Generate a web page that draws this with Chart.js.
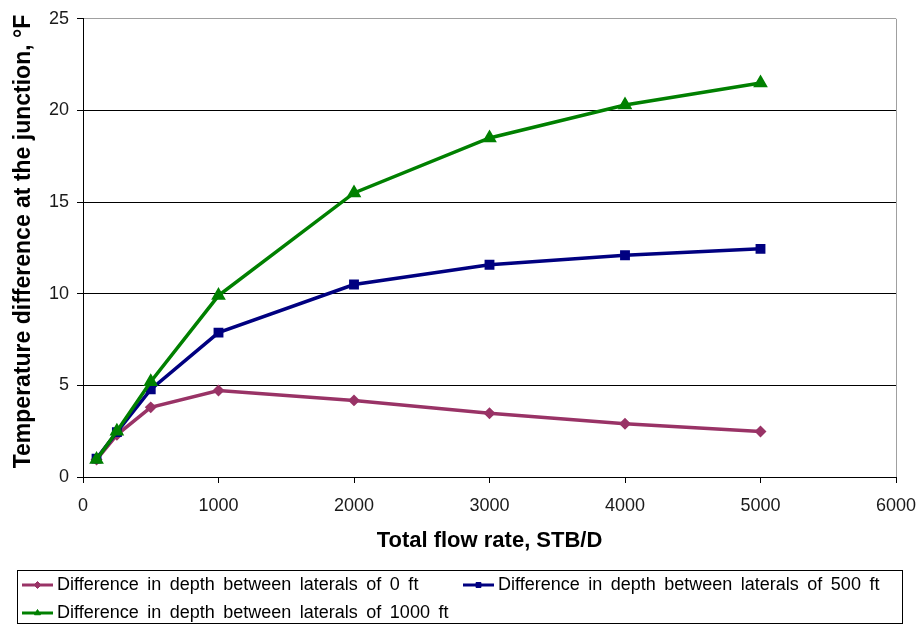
<!DOCTYPE html>
<html>
<head>
<meta charset="utf-8">
<script src="https://cdn.jsdelivr.net/npm/chart.js@4/dist/chart.umd.min.js"></script>
<style>
  html, body { margin: 0; padding: 0; background: #fff; }
  canvas { display: block; }
</style>
</head>
<body>
<canvas id="chartJunction" width="920" height="625"></canvas>
<script>
// flow rates (STB/D) and temperature differences (°F)
const flowRates = [100, 250, 500, 1000, 2000, 3000, 4000, 5000];
const diff0ft = [0.95, 2.3, 3.8, 4.72, 4.18, 3.48, 2.9, 2.48];
const diff500ft = [1.0, 2.45, 4.78, 7.88, 10.5, 11.58, 12.1, 12.45];
const diff1000ft = [0.95, 2.5, 5.2, 9.9, 15.5, 18.5, 20.3, 21.5];
const seriesLabels = [
  'Difference in depth between laterals of 0 ft',
  'Difference in depth between laterals of 500 ft',
  'Difference in depth between laterals of 1000 ft'
];

const family = '"Liberation Sans", Arial, sans-serif';
Chart.defaults.font.family = family;

const toPoints = arr => flowRates.map((x, i) => ({ x: x, y: arr[i] }));

// legend drawn in a box, two columns, like the original
const boxedLegend = {
  id: 'boxedLegend',
  afterDraw(chart) {
    const ctx = chart.ctx;
    ctx.save();
    ctx.strokeStyle = '#000';
    ctx.lineWidth = 1;
    ctx.strokeRect(17.5, 570.5, 885, 53);
    ctx.font = '18px ' + family;
    ctx.textBaseline = 'middle';
    ctx.textAlign = 'left';
    if ('wordSpacing' in ctx) ctx.wordSpacing = '3.5px';
    chart.data.datasets.forEach((ds, i) => {
      const x = [22, 463][i % 2];
      const y = [585, 613][Math.floor(i / 2)];
      ctx.strokeStyle = ds.borderColor;
      ctx.lineWidth = 3;
      ctx.beginPath();
      ctx.moveTo(x, y);
      ctx.lineTo(x + 31, y);
      ctx.stroke();
      ctx.fillStyle = ds.borderColor;
      ctx.lineWidth = 1;
      Chart.helpers.drawPoint(ctx, { pointStyle: ds.pointStyle, radius: 3.5, borderWidth: 1, rotation: 0 }, x + 15.5, y);
      ctx.fillStyle = '#000';
      ctx.fillText(ds.label, x + 35, y);
    });
    ctx.restore();
  }
};

const ctx = document.getElementById('chartJunction').getContext('2d');

new Chart(ctx, {
  type: 'line',
  data: {
    datasets: [
      {
        label: seriesLabels[0],
        data: toPoints(diff0ft),
        borderColor: '#993366',
        backgroundColor: '#993366',
        pointStyle: 'rectRot',
        pointRadius: 3.5,
        borderWidth: 3.5,
        order: 3
      },
      {
        label: seriesLabels[1],
        data: toPoints(diff500ft),
        borderColor: '#000080',
        backgroundColor: '#000080',
        pointStyle: 'rect',
        pointRadius: 4.5,
        borderWidth: 3.5,
        order: 2
      },
      {
        label: seriesLabels[2],
        data: toPoints(diff1000ft),
        borderColor: '#008000',
        backgroundColor: '#008000',
        pointStyle: 'triangle',
        pointRadius: 5,
        borderWidth: 3.5,
        order: 1
      }
    ]
  },
  options: {
    responsive: false,
    animation: false,
    devicePixelRatio: 1,
    layout: { padding: { top: 17, right: 24, bottom: 60, left: 0 } },
    elements: { line: { tension: 0 }, point: { borderWidth: 1 } },
    plugins: {
      legend: { display: false },
      tooltip: { enabled: false }
    },
    scales: {
      x: {
        type: 'linear',
        min: 0,
        max: 6000,
        ticks: {
          stepSize: 1000,
          color: '#1a1a1a',
          font: { size: 18 },
          padding: 12,
          maxRotation: 0,
          callback: v => String(v)
        },
        grid: {
          color: c => (c.tick && c.tick.value === 6000) ? '#a0a0a0' : 'rgba(0,0,0,0)',
          tickColor: '#000',
          tickLength: 6
        },
        border: { color: '#000', width: 1 },
        title: {
          display: true,
          text: 'Total flow rate, STB/D',
          color: '#000',
          font: { size: 22, weight: 'bold' },
          padding: { top: 0, bottom: 11 }
        },
        afterFit: s => { s.height = 88; s.paddingLeft = 0; s.paddingRight = 0; }
      },
      y: {
        min: 0,
        max: 25,
        ticks: {
          stepSize: 5,
          color: '#1a1a1a',
          font: { size: 18 },
          padding: 8
        },
        grid: {
          color: c => (c.tick && c.tick.value === 25) ? '#a0a0a0' : '#000',
          tickColor: '#000',
          tickLength: 6
        },
        border: { color: '#000', width: 1 },
        title: {
          display: true,
          text: '  Temperature difference at the junction, °F',
          color: '#000',
          font: { size: 23, weight: 'bold' },
          padding: { top: 10, bottom: 0 }
        },
        afterFit: s => { s.width = 83; }
      }
    }
  },
  plugins: [boxedLegend]
});
</script>
</body>
</html>
